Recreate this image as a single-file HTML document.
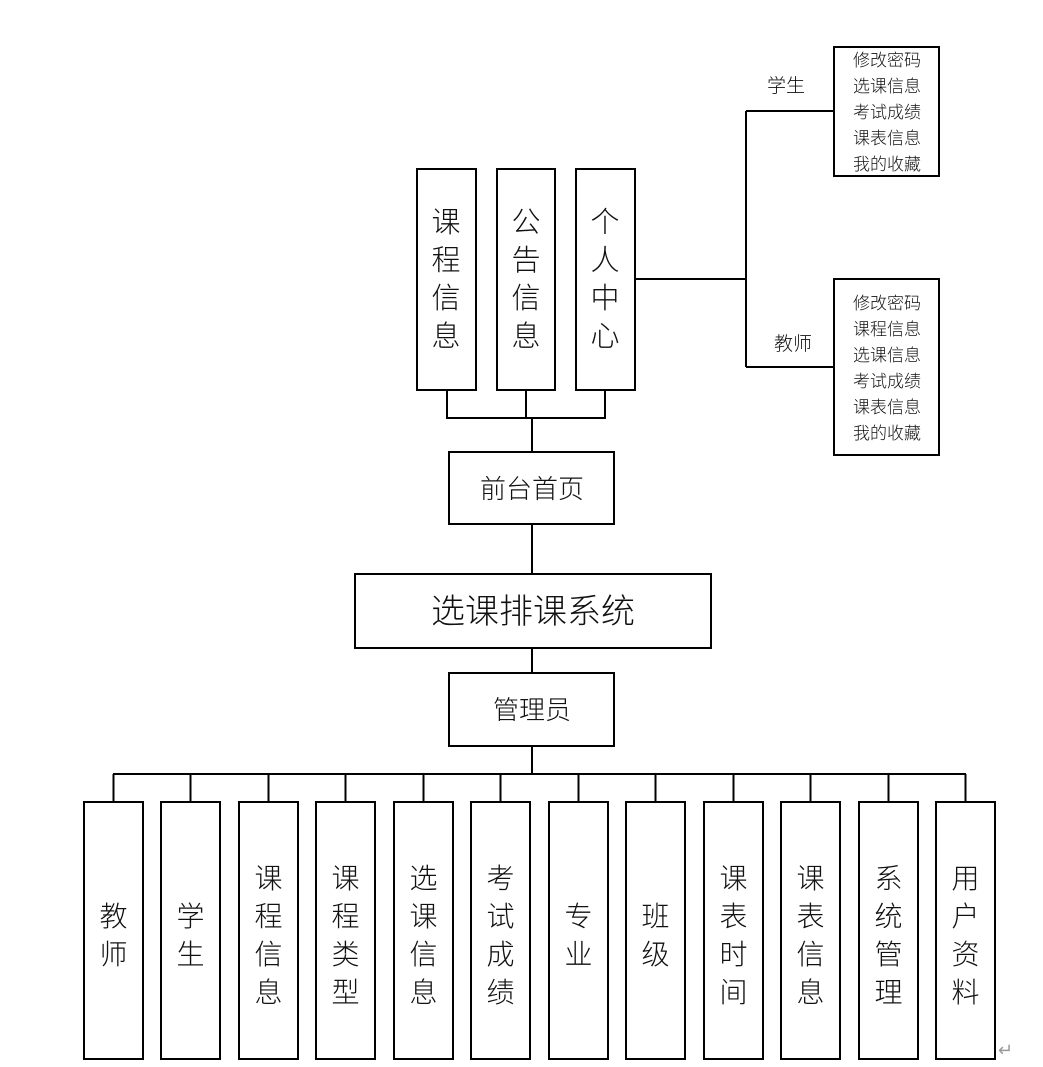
<!DOCTYPE html>
<html><head><meta charset="utf-8"><style>
html,body{margin:0;padding:0;background:#fff;}
svg{display:block;}
text{font-family:"Liberation Sans","Noto Sans CJK SC",sans-serif;fill:#111;font-weight:300;}
</style></head><body>
<svg width="1043" height="1067" viewBox="0 0 1043 1067" xmlns="http://www.w3.org/2000/svg">
<g fill="#fff" stroke="#000" stroke-width="2">
<rect x="417" y="169" width="59" height="221"/>
<rect x="497" y="169" width="58" height="221"/>
<rect x="576" y="169" width="59" height="221"/>
<rect x="834" y="47" width="105" height="129"/>
<rect x="834" y="279" width="105" height="176"/>
<rect x="449" y="452" width="165" height="72"/>
<rect x="355" y="574" width="356" height="74"/>
<rect x="449" y="673" width="165" height="73"/>
</g>
<g fill="none" stroke="#000" stroke-width="2">
<path d="M447 390V418H605V390M526 390V418M532 418V452"/>
<path d="M635 279H746M746 111V367M746 111H834M746 367H834"/>
<path d="M532 524V574M532 648V673M532 746V774"/>
<path d="M113 774H966"/>
</g>
<g id="bot" fill="#fff" stroke="#000" stroke-width="2">
<rect x="84" y="802" width="59" height="257"/>
<rect x="161" y="802" width="59" height="257"/>
<rect x="239" y="802" width="59" height="257"/>
<rect x="316" y="802" width="59" height="257"/>
<rect x="394" y="802" width="59" height="257"/>
<rect x="471" y="802" width="59" height="257"/>
<rect x="549" y="802" width="59" height="257"/>
<rect x="626" y="802" width="59" height="257"/>
<rect x="704" y="802" width="59" height="257"/>
<rect x="781" y="802" width="59" height="257"/>
<rect x="859" y="802" width="59" height="257"/>
<rect x="936" y="802" width="59" height="257"/>
</g>
<g stroke="#000" stroke-width="2">
<path d="M113.5 774V802M190.5 774V802M268.5 774V802M345.5 774V802M423.5 774V802M500.5 774V802M578.5 774V802M655.5 774V802M733.5 774V802M810.5 774V802M888.5 774V802M965.5 774V802"/>
</g>
<g font-size="29" text-anchor="middle">
<text x="446" y="232">课</text><text x="446" y="270">程</text><text x="446" y="308">信</text><text x="446" y="346">息</text>
<text x="526" y="232">公</text><text x="526" y="270">告</text><text x="526" y="308">信</text><text x="526" y="346">息</text>
<text x="605" y="232">个</text><text x="605" y="270">人</text><text x="605" y="308">中</text><text x="605" y="346">心</text>
</g>
<g font-size="19" text-anchor="middle">
<text x="786" y="92">学生</text>
<text x="793" y="350">教师</text>
</g>
<g font-size="17" text-anchor="middle">
<text x="887" y="66">修改密码</text><text x="887" y="92">选课信息</text><text x="887" y="118">考试成绩</text><text x="887" y="144">课表信息</text><text x="887" y="170">我的收藏</text>
<text x="887" y="309">修改密码</text><text x="887" y="335">课程信息</text><text x="887" y="361">选课信息</text><text x="887" y="387">考试成绩</text><text x="887" y="413">课表信息</text><text x="887" y="439">我的收藏</text>
</g>
<g text-anchor="middle">
<text x="532" y="498" font-size="26">前台首页</text>
<text x="533" y="623" font-size="34">选课排课系统</text>
<text x="532" y="719" font-size="26">管理员</text>
</g>
<g font-size="28" text-anchor="middle">
<text x="113.5" y="926">教</text><text x="113.5" y="964">师</text>
<text x="190.5" y="926">学</text><text x="190.5" y="964">生</text>
<text x="268.5" y="888">课</text><text x="268.5" y="926">程</text><text x="268.5" y="964">信</text><text x="268.5" y="1002">息</text>
<text x="345.5" y="888">课</text><text x="345.5" y="926">程</text><text x="345.5" y="964">类</text><text x="345.5" y="1002">型</text>
<text x="423.5" y="888">选</text><text x="423.5" y="926">课</text><text x="423.5" y="964">信</text><text x="423.5" y="1002">息</text>
<text x="500.5" y="888">考</text><text x="500.5" y="926">试</text><text x="500.5" y="964">成</text><text x="500.5" y="1002">绩</text>
<text x="578.5" y="926">专</text><text x="578.5" y="964">业</text>
<text x="655.5" y="926">班</text><text x="655.5" y="964">级</text>
<text x="733.5" y="888">课</text><text x="733.5" y="926">表</text><text x="733.5" y="964">时</text><text x="733.5" y="1002">间</text>
<text x="810.5" y="888">课</text><text x="810.5" y="926">表</text><text x="810.5" y="964">信</text><text x="810.5" y="1002">息</text>
<text x="888.5" y="888">系</text><text x="888.5" y="926">统</text><text x="888.5" y="964">管</text><text x="888.5" y="1002">理</text>
<text x="965.5" y="888">用</text><text x="965.5" y="926">户</text><text x="965.5" y="964">资</text><text x="965.5" y="1002">料</text>
</g>
<text x="998" y="1056" font-size="18" style="fill:#999">↵</text>
</svg>
</body></html>
